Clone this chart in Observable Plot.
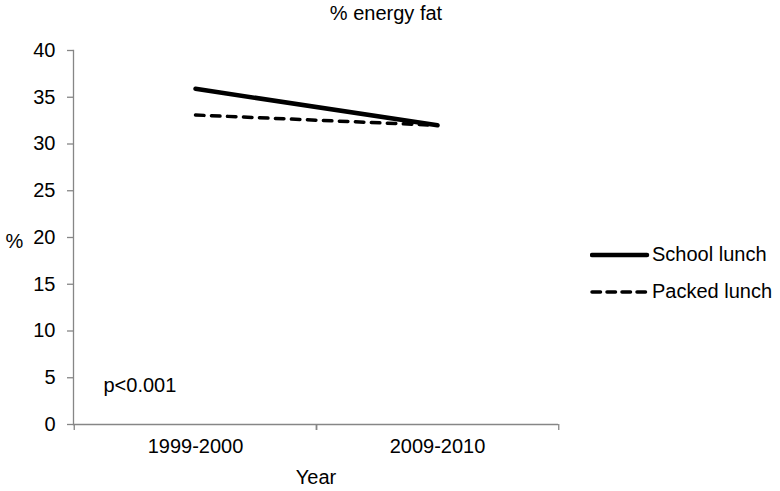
<!DOCTYPE html>
<html>
<head>
<meta charset="utf-8">
<script src="https://cdn.jsdelivr.net/npm/d3@7"></script>
<script src="https://cdn.jsdelivr.net/npm/@observablehq/plot@0.6"></script>
<style>
  html, body { margin: 0; padding: 0; background: white; }
  #wrap { position: relative; width: 780px; height: 491px; font-family: "Liberation Sans", Arial, sans-serif; }
  #legend { position: absolute; left: 590px; top: 236px; font-size: 20px; color: black; }
  .item { display: flex; align-items: center; height: 37px; }
  .item svg { margin-right: 2px; }
</style>
</head>
<body>
<div id="wrap"></div>
<script>
const years = ["1999-2000", "2009-2010"];
const schoolLunch = [35.9, 32.0];
const packedLunch = [33.1, 32.0];
const yTicks = [0, 5, 10, 15, 20, 25, 30, 35, 40];
const seriesNames = ["School lunch", "Packed lunch"];

const rows = years.map((yr, i) => ({year: yr, school: schoolLunch[i], packed: packedLunch[i]}));
const axisGray = "#868686";
const half = (558 - 73) / years.length / 2;

const chart = Plot.plot({
  width: 780,
  height: 491,
  marginLeft: 73,
  marginRight: 222,
  marginTop: 50,
  marginBottom: 67,
  style: {fontFamily: "'Liberation Sans', Arial, sans-serif", fontSize: "20px", color: "black", background: "white", overflow: "visible"},
  x: {type: "band", domain: years, padding: 0},
  y: {domain: [0, 40]},
  marks: [
    Plot.frame({anchor: "left", stroke: axisGray, strokeWidth: 1.3}),
    Plot.ruleY([0], {stroke: axisGray, strokeWidth: 1.3}),
    Plot.axisY({ticks: yTicks, tickSize: 6, stroke: axisGray, strokeWidth: 1.3, text: null, label: null}),
    Plot.axisY({ticks: yTicks, tickSize: 0, tickPadding: 18, label: null, fontSize: 20}),
    Plot.axisX({tickSize: 0, tickPadding: 14, label: null, fontSize: 20}),
    Plot.axisX({tickSize: 6, text: null, label: null, stroke: axisGray, strokeWidth: 1.3, dx: -half}),
    Plot.axisX({tickSize: 6, text: null, label: null, stroke: axisGray, strokeWidth: 1.3, dx: half}),
    Plot.line(rows, {x: "year", y: "packed", stroke: "black", strokeWidth: 3.5, strokeDasharray: "8.5,7.5"}),
    Plot.line(rows, {x: "year", y: "school", stroke: "black", strokeWidth: 4.5}),
    Plot.text(["p<0.001"], {frameAnchor: "bottom-left", dx: 30, dy: -39, textAnchor: "start", lineAnchor: "middle", fontSize: 20}),
    Plot.text(["%"], {frameAnchor: "left", dx: -68, dy: 4, textAnchor: "start", lineAnchor: "middle", fontSize: 20}),
    Plot.text(["Year"], {frameAnchor: "bottom", dy: 53, lineAnchor: "middle", fontSize: 20}),
    Plot.text(["% energy fat"], {frameAnchor: "top", dx: 70, dy: -37, lineAnchor: "middle", fontSize: 20})
  ]
});
document.getElementById("wrap").appendChild(chart);

const legend = document.createElement("div");
legend.id = "legend";
seriesNames.forEach((name, i) => {
  const item = document.createElement("div");
  item.className = "item";
  const dash = i === 0 ? "" : ' stroke-dasharray="8.5,6.5"';
  const sw = i === 0 ? 4.5 : 3.5;
  item.innerHTML = `<svg width="60" height="10"><line x1="2" y1="5" x2="57" y2="5" stroke="black" stroke-width="${sw}" stroke-linecap="round"${dash}/></svg><span>${name}</span>`;
  legend.appendChild(item);
});
document.getElementById("wrap").appendChild(legend);
</script>
</body>
</html>
